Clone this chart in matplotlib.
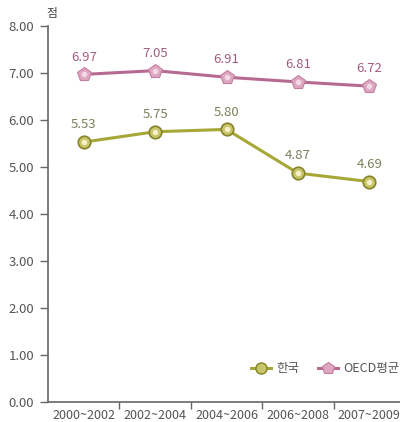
import matplotlib
matplotlib.use("Agg")
import matplotlib.pyplot as plt
from matplotlib.lines import Line2D

plt.rcParams['font.family'] = ['Noto Sans CJK KR', 'DejaVu Sans']

periods = ["2000~2002", "2002~2004", "2004~2006", "2006~2008", "2007~2009"]
korea = [5.53, 5.75, 5.80, 4.87, 4.69]
oecd = [6.97, 7.05, 6.91, 6.81, 6.72]
y_ticks = [0, 1, 2, 3, 4, 5, 6, 7, 8]

KOREA_LINE = "#a6a736"
KOREA_FACE = "#c8c46a"
KOREA_EDGE = "#858428"
KOREA_TEXT = "#7d7f5c"
OECD_LINE = "#b66a90"
OECD_FACE = "#dfa6c2"
OECD_EDGE = "#c27fa2"
OECD_TEXT = "#a35c80"
AXIS = "#666666"
TEXT = "#555555"

fig = plt.figure(figsize=(4.0, 4.22), dpi=100)
ax = fig.add_axes([0.12, 0.0474, 0.8925, 0.891])

x = list(range(len(periods)))

ax.plot(x, oecd, color=OECD_LINE, lw=2.2, zorder=2)
ax.plot(x, oecd, ls='none', marker='p', ms=10.5, mfc=OECD_FACE, mec=OECD_EDGE, mew=0.8, zorder=3)
ax.plot(x, oecd, ls='none', marker='o', ms=4, mfc='#f3d8e6', mec='none', zorder=4)

ax.plot(x, korea, color=KOREA_LINE, lw=2.2, zorder=2)
ax.plot(x, korea, ls='none', marker='o', ms=9, mfc=KOREA_FACE, mec=KOREA_EDGE, mew=1.2, zorder=3)
ax.plot(x, korea, ls='none', marker='o', ms=4, mfc='#f4f1c8', mec='none', zorder=4)

for xi, v in zip(x, oecd):
    ax.annotate(f"{v:.2f}", (xi, v), xytext=(0, 12.5), textcoords='offset points',
                ha='center', va='center', fontsize=9.5, color=OECD_TEXT)
for xi, v in zip(x, korea):
    ax.annotate(f"{v:.2f}", (xi, v), xytext=(0, 12.5), textcoords='offset points',
                ha='center', va='center', fontsize=9.5, color=KOREA_TEXT)

ax.set_xlim(-0.5, len(periods) - 0.5)
ax.set_ylim(0, 8)
ax.set_yticks(y_ticks)
ax.set_yticklabels([f"{t:.2f}" for t in y_ticks])
ax.set_xticks([i + 0.5 for i in range(len(periods) - 1)])
ax.set_xticklabels([])
ax.set_xticks(x, minor=True)
ax.set_xticklabels(periods, minor=True)
ax.tick_params(axis='x', which='major', length=5, width=1, color=AXIS, direction='out')
ax.tick_params(axis='x', which='minor', length=0, labelsize=9, labelcolor=TEXT, pad=5)
ax.tick_params(axis='y', length=6, width=1, color=AXIS, labelsize=9.5, labelcolor=TEXT, pad=4)

for s in ('top', 'right'):
    ax.spines[s].set_visible(False)
for s in ('left', 'bottom'):
    ax.spines[s].set_color(AXIS)
    ax.spines[s].set_linewidth(1.2)

fig.text(0.117, 0.968, "점", fontsize=8.5, color="#444444", ha='left', va='center')

handles = [
    Line2D([], [], color=KOREA_LINE, lw=2.2, marker='o', ms=8, mfc=KOREA_FACE, mec=KOREA_EDGE, mew=1),
    Line2D([], [], color=OECD_LINE, lw=2.2, marker='p', ms=9, mfc=OECD_FACE, mec=OECD_EDGE, mew=0.8),
]
fig.legend(handles, ["한국", "OECD평균"], loc='center left', bbox_to_anchor=(0.6, 0.126),
           ncol=2, frameon=False, fontsize=9, handlelength=1.6, handletextpad=0.4,
           columnspacing=1.5, labelcolor=TEXT)

fig.savefig("out.png", dpi=100)
